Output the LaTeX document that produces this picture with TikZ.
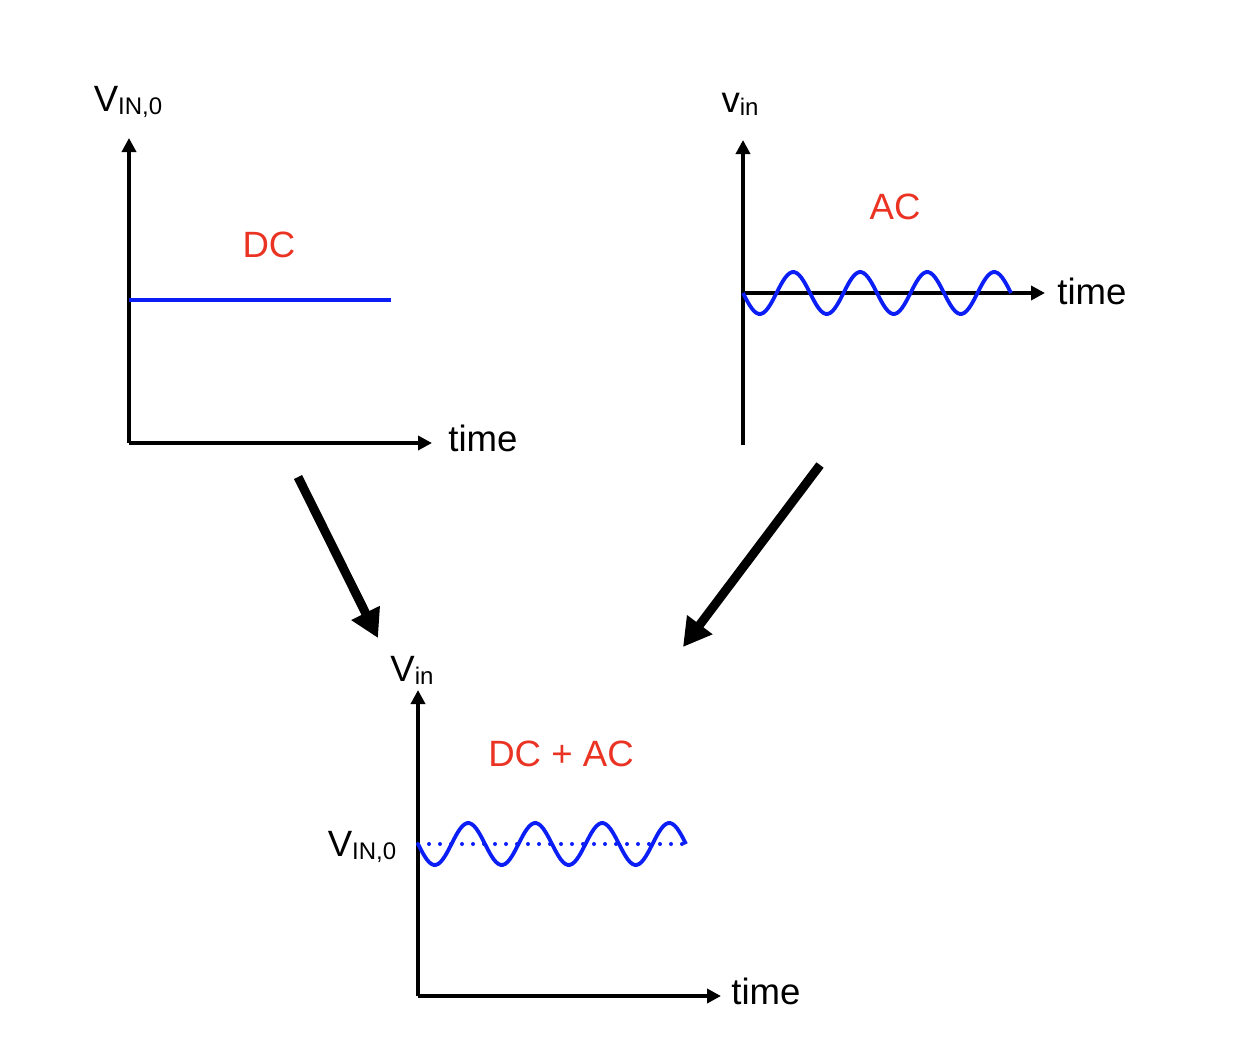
\documentclass[tikz,border=0pt]{standalone}
\usepackage{fontspec}
\setmainfont{Liberation Sans}
\usetikzlibrary{arrows.meta,positioning}
\definecolor{sgRed}{HTML}{EA3323}
\definecolor{sgBlue}{HTML}{0A1EF5}
\newcommand{\lowsub}[1]{\raisebox{-0.15ex}{\fontsize{12}{14}\selectfont #1}}
\tikzset{
  axis/.style={-{Triangle[length=7pt,width=7pt]}, line width=1.8pt},
  lbl/.style={font=\fontsize{18.3}{22}\selectfont, inner sep=1pt},
  tag/.style={lbl, text=sgRed},
  wave/.style={draw=sgBlue, line width=1.9pt},
  big/.style={-{Triangle[length=14pt,width=15pt]}, line width=4.5pt},
}
\begin{document}
\begin{tikzpicture}[x=0.5pt, y=-0.5pt]
  \useasboundingbox (0,0) rectangle (1246,1044);
  % DC plot
  \coordinate (dc) at (129,443);
  \draw[axis] (dc) -- (129,138) coordinate (dcTop);
  \draw[axis] (dc) -- (432,443) coordinate (dcRight);
  \draw[wave] (129,300) -- (391,300);
  \node[lbl] (dcV) at (128,102) {V\lowsub{IN,0}};
  \node[lbl, anchor=west] (dcT) at (446,438) {time};
  \node[tag] (dcTag) at (269,245) {DC};
  % AC plot
  \coordinate (ac) at (743,293);
  \draw[line width=1.8pt] (743,445) -- (ac);
  \draw[axis] (ac) -- (743,140) coordinate (acTop);
  \draw[axis] (ac) -- (1045,293) coordinate (acRight);
  \draw[wave] plot[domain=0:268, samples=121, smooth] ({743+\x},{293+21*sin(\x/67*360)});
  \node[lbl] (acV) at (740,104) {v\lowsub{in}};
  \node[lbl, anchor=west] (acT) at (1055,291) {time};
  \node[tag] (acTag) at (895,207) {AC};
  % DC + AC plot
  \coordinate (sum) at (418,996);
  \draw[axis] (sum) -- (418,690) coordinate (sumTop);
  \draw[axis] (sum) -- (721,996) coordinate (sumRight);
  \draw[sgBlue, line width=2pt, line cap=round, dash pattern=on 0pt off 5.5pt] (418,844) -- (687,844);
  \draw[wave] plot[domain=0:268, samples=121, smooth] ({418+\x},{844+21*sin(\x/67*360)});
  \node[lbl] (sumV) at (412,670) {V\lowsub{in}};
  \node[lbl] (sumLvl) at (362,847) {V\lowsub{IN,0}};
  \node[lbl, anchor=west] (sumT) at (729,991) {time};
  \node[tag] (sumTag) at (561,754) {DC + AC};
  % combining arrows
  \coordinate (dcOut) at (298,477);
  \coordinate (sumInL) at (378,638);
  \coordinate (acOut) at (820,465);
  \coordinate (sumInR) at (683,647);
  \draw[big] (dcOut) -- (sumInL);
  \draw[big] (acOut) -- (sumInR);
\end{tikzpicture}
\end{document}
